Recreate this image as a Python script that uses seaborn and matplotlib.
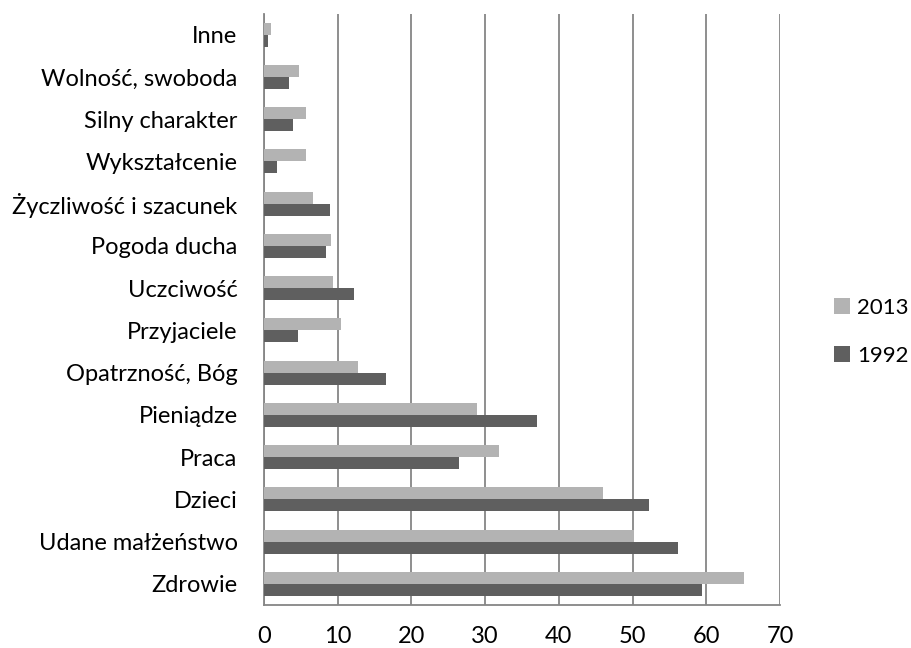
import matplotlib
matplotlib.use("Agg")
import matplotlib.pyplot as plt
import seaborn as sns
import pandas as pd
import numpy as np

categories = ["Inne", "Wolność, swoboda", "Silny charakter", "Wykształcenie",
              "Życzliwość i szacunek", "Pogoda ducha", "Uczciwość", "Przyjaciele",
              "Opatrzność, Bóg", "Pieniądze", "Praca", "Dzieci",
              "Udane małżeństwo", "Zdrowie"]
values_2013 = [0.9, 4.8, 5.7, 5.7, 6.6, 9.1, 9.3, 10.5, 12.8, 28.9, 31.9, 46.0, 50.2, 65.1]
values_1992 = [0.5, 3.4, 3.9, 1.8, 8.9, 8.4, 12.2, 4.6, 16.6, 37.1, 26.5, 52.2, 56.2, 59.4]
years = ["2013", "1992"]
x_ticks = [0, 10, 20, 30, 40, 50, 60, 70]

df = pd.DataFrame({
    "cat": categories * 2,
    "val": values_2013 + values_1992,
    "year": [years[0]] * len(categories) + [years[1]] * len(categories),
})

sns.set_style("white")
plt.rcParams["font.family"] = ["Lato", "DejaVu Sans"]
plt.rcParams["text.color"] = "black"
plt.rcParams["xtick.color"] = "black"
plt.rcParams["ytick.color"] = "black"

FS = 17

fig = plt.figure(figsize=(9.12, 6.48), dpi=100)
ax = fig.add_axes([264/912, 1 - 605/648, (780-264)/912, (605-13.5)/648])

sns.barplot(data=df, y="cat", x="val", hue="year", order=categories,
            hue_order=years, palette=["#b3b3b3", "#5f5f5f"], orient="h",
            width=0.57, gap=0, ax=ax, saturation=1, errorbar=None,
            edgecolor="none", zorder=3)

ax.set_xlim(0, 70)
ax.set_ylim(len(categories) - 0.5, -0.5)
ax.set_xticks(x_ticks)
ax.set_xticklabels([str(t) for t in x_ticks], fontsize=FS)
ax.set_yticks(range(len(categories)))
ax.set_yticklabels(categories, fontsize=FS)
ax.set_yticks(np.arange(-0.5, len(categories), 1.0), minor=True)
ax.tick_params(axis="y", which="major", length=0, pad=19, labelcolor="black")
ax.tick_params(axis="y", which="minor", length=6, width=1.3, color="#868686", direction="out")
ax.tick_params(axis="x", which="major", length=7, width=1.3, color="#868686", direction="out",
               pad=8, labelcolor="black")
ax.set_xlabel("")
ax.set_ylabel("")

ax.grid(axis="x", color="#868686", linewidth=1.3, zorder=0)
ax.set_axisbelow(True)
for s in ["top", "right"]:
    ax.spines[s].set_visible(False)
for s in ["left", "bottom"]:
    ax.spines[s].set_color("#868686")
    ax.spines[s].set_linewidth(1.3)

handles, labels = ax.get_legend_handles_labels()
ax.legend(handles, labels, loc="center left", bbox_to_anchor=(1.065, 0.462),
          frameon=False, fontsize=16, handlelength=0.75, handleheight=0.75,
          labelspacing=1.25, handletextpad=0.3, labelcolor="black")

fig.savefig("out.png", dpi=100)
